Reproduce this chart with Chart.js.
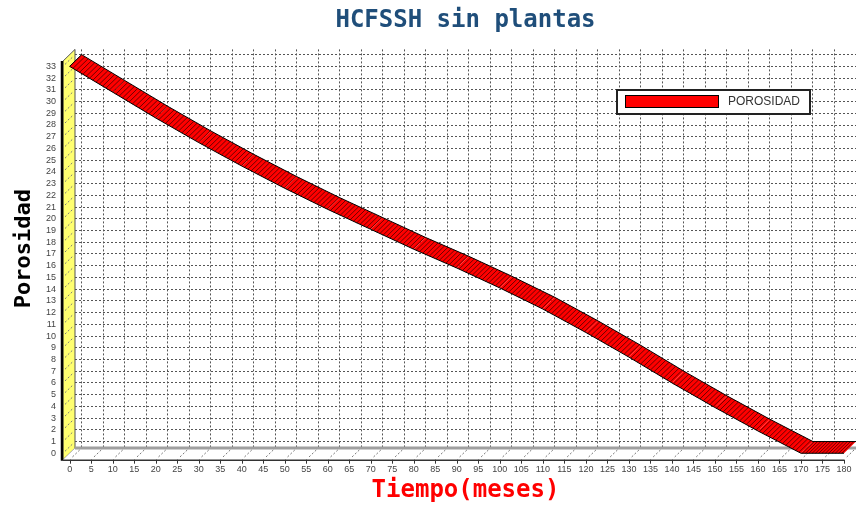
<!DOCTYPE html>
<html>
<head>
<meta charset="utf-8">
<title>HCFSSH sin plantas</title>
<script src="https://cdn.jsdelivr.net/npm/chart.js@4.4.1/dist/chart.umd.min.js"></script>
<style>
body{margin:0;background:#fff;}
</style>
</head>
<body>
<canvas id="grafico" width="856" height="508"></canvas>
<script>
// datos
const meses=[0,10,20,30,40,50,60,70,80,90,100,110,120,130,140,150,160,170,180];
const porosidad=[33,30.8,28.6,26.5,24.5,22.6,20.8,19.1,17.4,15.8,14.1,12.3,10.3,8.2,6.0,3.9,1.9,0,0];
const ticksX=[0,5,10,15,20,25,30,35,40,45,50,55,60,65,70,75,80,85,90,95,100,105,110,115,120,125,130,135,140,145,150,155,160,165,170,175,180];
const ticksY=[0,1,2,3,4,5,6,7,8,9,10,11,12,13,14,15,16,17,18,19,20,21,22,23,24,25,26,27,28,29,30,31,32,33];

// profundidad del efecto 3D
const dx=12, dy=11.7;

const efecto3d={
    id:'efecto3d',
    beforeDatasetsDraw(chart){
        var c=chart.ctx, a=chart.chartArea, sx=chart.scales.x, sy=chart.scales.y;
        c.save();
        // pared izquierda
        c.beginPath();
        c.moveTo(a.left,a.top);
        c.lineTo(a.left,a.bottom);
        c.lineTo(a.left-dx,a.bottom+dy);
        c.lineTo(a.left-dx,a.top+dy);
        c.closePath();
        c.fillStyle='#ffff70';
        c.fill();
        c.strokeStyle='#555';
        c.lineWidth=1;
        c.stroke();
        c.setLineDash([2,2]);
        c.strokeStyle='#777';
        ticksY.forEach(v=>{
            var y=sy.getPixelForValue(v);
            c.beginPath();
            c.moveTo(a.left-dx+2,y+dy-2);
            c.lineTo(a.left-2,y+2);
            c.stroke();
        });
        c.setLineDash([]);
        c.beginPath();
        c.moveTo(a.left-dx-1,a.top+dy);
        c.lineTo(a.left-dx-1,a.bottom+dy+1);
        c.lineWidth=2.5;
        c.strokeStyle='#000';
        c.stroke();

        // suelo
        c.beginPath();
        c.moveTo(a.left,a.bottom);
        c.lineTo(a.right,a.bottom);
        c.lineTo(a.right-dx,a.bottom+dy);
        c.lineTo(a.left-dx,a.bottom+dy);
        c.closePath();
        c.fillStyle='#fff';
        c.fill();
        c.beginPath();
        c.moveTo(a.left,a.bottom);
        c.lineTo(a.right,a.bottom);
        c.lineWidth=3;
        c.strokeStyle='#a0a0a0';
        c.stroke();
        c.lineWidth=1;
        c.setLineDash([2,2]);
        c.strokeStyle='#777';
        ticksX.forEach(v=>{
            var x=sx.getPixelForValue(v);
            c.beginPath();
            c.moveTo(x-2,a.bottom+2);
            c.lineTo(x-dx+2,a.bottom+dy-2);
            c.stroke();
        });
        c.setLineDash([]);
        c.beginPath();
        c.moveTo(a.left-dx,a.bottom+dy+0.5);
        c.lineTo(a.right-dx,a.bottom+dy+0.5);
        c.strokeStyle='#333';
        c.lineWidth=1.5;
        c.stroke();
        c.lineWidth=1;
        ticksX.forEach(v=>{
            var x=Math.round(sx.getPixelForValue(v)-dx)+0.5;
            c.beginPath();
            c.moveTo(x,a.bottom+dy);
            c.lineTo(x,a.bottom+dy+4);
            c.stroke();
        });

        // cinta roja de la serie
        var pts=chart.getDatasetMeta(0).data;
        c.fillStyle='#ff0000';
        for(var i=0;i<pts.length-1;i++){
            var p0=pts[i], p1=pts[i+1];
            c.beginPath();
            c.moveTo(p0.x-dx,p0.y+dy);
            c.lineTo(p1.x-dx,p1.y+dy);
            c.lineTo(p1.x,p1.y);
            c.lineTo(p0.x,p0.y);
            c.closePath();
            c.fill();
        }
        // rayado
        c.strokeStyle='rgba(40,0,0,0.85)';
        c.lineWidth=0.8;
        var j=0;
        for(var xx=pts[0].x;xx<=pts[pts.length-1].x;xx+=3.3){
            while(j<pts.length-2 && pts[j+1].x<xx) j++;
            var q0=pts[j], q1=pts[j+1];
            var f=(xx-q0.x)/(q1.x-q0.x);
            var yy=q0.y+(q1.y-q0.y)*f;
            c.beginPath();
            c.moveTo(xx-dx,yy+dy);
            c.lineTo(xx,yy);
            c.stroke();
        }
        // contorno
        c.strokeStyle='#000';
        c.lineWidth=1;
        c.beginPath();
        pts.forEach((p,n)=>{ if(n==0) c.moveTo(p.x-dx,p.y+dy); else c.lineTo(p.x-dx,p.y+dy); });
        c.stroke();
        c.beginPath();
        c.moveTo(pts[0].x-dx,pts[0].y+dy);
        c.lineTo(pts[0].x,pts[0].y);
        c.stroke();
        c.restore();
    },
    afterDraw(chart){
        // leyenda
        var c=chart.ctx;
        c.save();
        c.fillStyle='#fff';
        c.fillRect(617,90,193,24);
        c.strokeStyle='#222';
        c.lineWidth=2;
        c.strokeRect(617,90,193,24);
        c.fillStyle='#ff0000';
        c.fillRect(625,95,93,12);
        c.strokeStyle='#000';
        c.lineWidth=1;
        c.strokeRect(625.5,95.5,93,12);
        c.fillStyle='#333';
        c.font='12px "Liberation Sans"';
        c.textBaseline='middle';
        c.fillText(chart.data.datasets[0].label,728,102);
        c.restore();
    }
};

Chart.defaults.font.family='"Liberation Sans", Arial, sans-serif';

var ctx=document.getElementById('grafico');
var graf=new Chart(ctx,{
    type:'line',
    data:{
        datasets:[{
            label:'POROSIDAD',
            data:meses.map((m,n)=>({x:m,y:porosidad[n]})),
            borderColor:'#000',
            borderWidth:1,
            pointRadius:0,
            tension:0,
            clip:false
        }]
    },
    options:{
        responsive:false,
        animation:false,
        devicePixelRatio:1,
        layout:{padding:0},
        plugins:{
            legend:{display:false},
            tooltip:{enabled:false},
            title:{
                display:true,
                fullSize:false,
                text:'HCFSSH sin plantas',
                color:'#1f4e7a',
                font:{family:'"DejaVu Sans Mono"',size:24,weight:'bold'},
                padding:{top:6,bottom:14.6}
            }
        },
        scales:{
            x:{
                type:'linear',
                min:-1.55,
                max:180,
                afterBuildTicks:s=>{ s.ticks=ticksX.map(v=>({value:v})); },
                afterFit:s=>{ s.height=60; s.paddingLeft=0; s.paddingRight=0; },
                ticks:{labelOffset:-dx,padding:16,autoSkip:false,maxRotation:0,color:'#444',font:{size:9}},
                grid:{color:'#555',lineWidth:1,drawTicks:false},
                border:{display:false,dash:[2,2]},
                title:{
                    display:true,
                    text:'Tiempo(meses)',
                    color:'#ff0000',
                    font:{family:'"DejaVu Sans Mono"',size:24,weight:'bold'},
                    padding:{top:0,bottom:3}
                }
            },
            y:{
                min:-0.55,
                max:33.45,
                afterBuildTicks:s=>{ s.ticks=ticksY.map(v=>({value:v})); },
                afterFit:s=>{ s.width=75; s.paddingTop=0; s.paddingBottom=0; },
                ticks:{labelOffset:dy,padding:19,autoSkip:false,color:'#444',font:{size:9}},
                grid:{color:'#555',lineWidth:1,drawTicks:false},
                border:{display:false,dash:[2,2]},
                title:{
                    display:true,
                    text:'Porosidad',
                    color:'#000',
                    font:{family:'"DejaVu Sans Mono"',size:22,weight:'bold'},
                    padding:{top:11,bottom:0}
                }
            }
        }
    },
    plugins:[efecto3d]
});
</script>
</body>
</html>
